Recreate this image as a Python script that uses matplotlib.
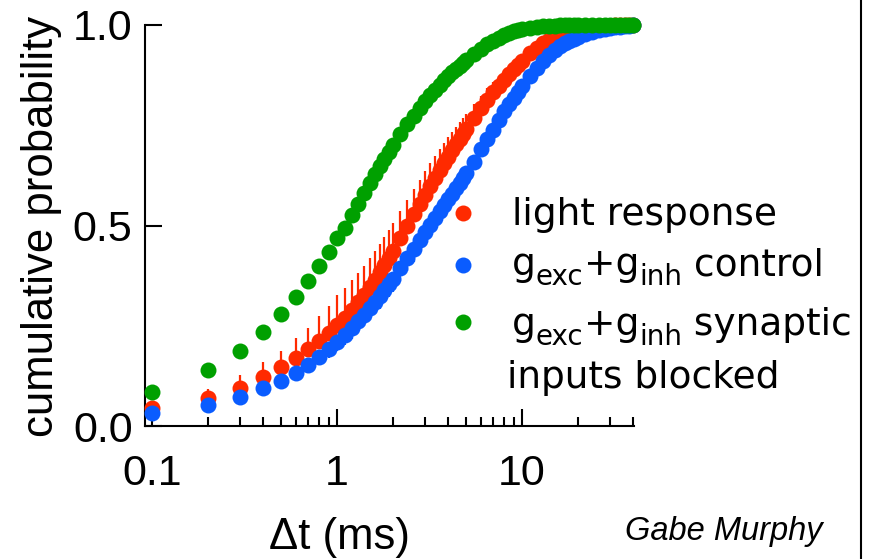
import matplotlib
matplotlib.use('Agg')
import matplotlib.pyplot as plt
from matplotlib.lines import Line2D
from matplotlib.ticker import FixedLocator, NullFormatter

# ---------------- data ----------------
dt_ms = [0.1, 0.2, 0.3, 0.4, 0.5, 0.6, 0.7, 0.8, 0.9, 1.0,
         1.1, 1.2, 1.3, 1.4, 1.5, 1.6, 1.7, 1.8, 1.9, 2.0,
         2.2, 2.4, 2.6, 2.8, 3.0, 3.2, 3.4, 3.6, 3.8, 4.0,
         4.2, 4.4, 4.6, 4.8, 5.0, 5.5, 6.0, 6.5, 7.0, 7.5,
         8.0, 8.5, 9.0, 9.5, 10, 11, 12, 13, 14, 15,
         16, 17, 18, 19, 20, 22, 24, 26, 28, 30,
         32, 34, 36, 38, 40]

light_response = [0.045, 0.070, 0.095, 0.122, 0.146, 0.170, 0.193, 0.213, 0.233, 0.252,
                  0.270, 0.289, 0.308, 0.327, 0.346, 0.365, 0.384, 0.402, 0.420, 0.437,
                  0.470, 0.500, 0.528, 0.553, 0.577, 0.599, 0.619, 0.638, 0.655, 0.672,
                  0.688, 0.702, 0.716, 0.729, 0.741, 0.768, 0.792, 0.813, 0.832, 0.849,
                  0.864, 0.878, 0.890, 0.901, 0.911, 0.929, 0.943, 0.954, 0.963, 0.970,
                  0.976, 0.981, 0.985, 0.988, 0.990, 0.993, 0.995, 0.997, 0.998, 0.998,
                  0.999, 0.999, 1.000, 1.000, 1.000]
light_err = [0.012, 0.022, 0.032, 0.038, 0.042, 0.050, 0.052, 0.062, 0.067, 0.075,
             0.075, 0.075, 0.074, 0.073, 0.072, 0.071, 0.070, 0.070, 0.069, 0.068,
             0.066, 0.064, 0.062, 0.060, 0.058, 0.056, 0.054, 0.052, 0.050, 0.048,
             0.046, 0.044, 0.042, 0.040, 0.038, 0.035, 0.032, 0.029, 0.026, 0.024,
             0.022, 0.020, 0.018, 0.016, 0.015, 0.013, 0.011, 0.009, 0.008, 0.007,
             0.006, 0.005, 0.004, 0.004, 0.003, 0.003, 0.002, 0.002, 0.001, 0.001,
             0.001, 0.001, 0.000, 0.000, 0.000]

control = [0.032, 0.052, 0.072, 0.095, 0.112, 0.133, 0.152, 0.171, 0.191, 0.210,
           0.228, 0.245, 0.262, 0.278, 0.294, 0.309, 0.324, 0.339, 0.353, 0.367,
           0.394, 0.419, 0.442, 0.463, 0.483, 0.502, 0.519, 0.535, 0.550, 0.565,
           0.579, 0.593, 0.606, 0.618, 0.630, 0.658, 0.690, 0.715, 0.738, 0.762,
           0.785, 0.803, 0.819, 0.834, 0.848, 0.873, 0.894, 0.911, 0.925, 0.937,
           0.947, 0.955, 0.961, 0.966, 0.971, 0.978, 0.983, 0.987, 0.990, 0.993,
           0.995, 0.996, 0.997, 0.998, 0.999]
control_err = [0.008, 0.010, 0.012, 0.014, 0.015, 0.016, 0.018, 0.020, 0.022, 0.024,
               0.026, 0.027, 0.028, 0.029, 0.030, 0.030, 0.031, 0.031, 0.032, 0.032,
               0.032, 0.032, 0.032, 0.031, 0.031, 0.030, 0.030, 0.029, 0.028, 0.027,
               0.026, 0.025, 0.024, 0.023, 0.022, 0.020, 0.018, 0.016, 0.015, 0.014,
               0.013, 0.012, 0.011, 0.010, 0.009, 0.008, 0.007, 0.006, 0.005, 0.005,
               0.004, 0.004, 0.003, 0.003, 0.003, 0.002, 0.002, 0.001, 0.001, 0.001,
               0.001, 0.000, 0.000, 0.000, 0.000]

blocked = [0.085, 0.140, 0.187, 0.234, 0.279, 0.322, 0.362, 0.400, 0.434, 0.469,
           0.495, 0.525, 0.553, 0.580, 0.605, 0.628, 0.648, 0.667, 0.684, 0.700,
           0.728, 0.752, 0.774, 0.793, 0.810, 0.825, 0.839, 0.851, 0.862, 0.873,
           0.882, 0.890, 0.898, 0.906, 0.913, 0.928, 0.941, 0.952, 0.961, 0.968,
           0.975, 0.980, 0.984, 0.987, 0.990, 0.993, 0.995, 0.997, 0.998, 0.998,
           0.999, 0.999, 0.999, 1.000, 1.000, 1.000, 1.000, 1.000, 1.000, 1.000,
           1.000, 1.000, 1.000, 1.000, 1.000]

# legend lines: pieces of (text, is_subscript)
legend_pieces = [
    [('light response', False)],
    [('g', False), ('exc', True), ('+g', False), ('inh', True), (' control', False)],
    [('g', False), ('exc', True), ('+g', False), ('inh', True), (' synaptic', False)],
    [('inputs blocked', False)],
]
x_ticks = [0.1, 1, 10]
x_ticklabels = ['0.1', '1', '10']
x_minor = [0.2, 0.3, 0.4, 0.5, 0.6, 0.7, 0.8, 0.9, 2, 3, 4, 5, 6, 7, 8, 9, 20, 30, 40]
y_ticks = [0.0, 0.5, 1.0]
y_ticklabels = ['0.0', '0.5', '1.0']

# ---------------- style ----------------
RED = '#FF2A00'
BLUE = '#0A5CFF'
GREEN = '#00A000'
AXFONT = 'Liberation Sans'
LEGFONT = 'DejaVu Sans'

W, H = 871, 559
fig = plt.figure(figsize=(W / 100, H / 100), dpi=100)
ax = fig.add_axes([145 / W, 1 - 426 / H, (634 - 145) / W, (426 - 25) / H])
ax.set_xscale('log')
ax.set_xlim(0.0917, 40.3)
ax.set_ylim(0, 1)

MS = 11.5
zeros = [0.0] * len(dt_ms)

c1 = ax.errorbar(dt_ms, light_response, yerr=[zeros, light_err], fmt='o', color=RED,
                 ms=MS, mew=0, elinewidth=1.6, capsize=0, zorder=3)
c2 = ax.errorbar(dt_ms, control, yerr=[control_err, zeros], fmt='o', color=BLUE,
                 ms=MS, mew=0, elinewidth=1.6, capsize=0, zorder=4)
c3 = ax.errorbar(dt_ms, blocked, fmt='o', color=GREEN, ms=MS, mew=0, zorder=5)
for c in (c1, c2, c3):
    for child in c.get_children():
        child.set_clip_on(False)

for s in ('top', 'right'):
    ax.spines[s].set_visible(False)
for s in ('left', 'bottom'):
    ax.spines[s].set_linewidth(1.5)

ax.set_xticks(x_ticks)
ax.set_xticklabels(x_ticklabels)
ax.xaxis.set_minor_locator(FixedLocator(x_minor))
ax.xaxis.set_minor_formatter(NullFormatter())
ax.set_yticks(y_ticks)
ax.set_yticklabels(y_ticklabels)
ax.tick_params(which='major', direction='in', length=12.5, width=1.5, labelsize=31, pad=9)
ax.tick_params(axis='x', which='major', pad=20)
ax.tick_params(which='minor', direction='in', length=6.5, width=1.5)
for lab in ax.get_xticklabels() + ax.get_yticklabels():
    lab.set_fontfamily(AXFONT)

def fx(px):
    return px / W

def fy(py):
    return 1 - py / H

fig.text(fx(42), fy(226), 'cumulative probability', rotation=90, ha='center', va='center',
         fontsize=31.5, family=AXFONT)
fig.text(fx(339), fy(549), '\u0394t (ms)', ha='center', va='baseline', fontsize=31.5, family=AXFONT)
fig.text(fx(625), fy(540), 'Gabe Murphy', ha='left', va='baseline', fontsize=23.5,
         family=AXFONT, style='italic')

# legend (manual)
leg_colors = [RED, BLUE, GREEN]
leg_marker_y = [213, 265, 322]
leg_text_base = [225, 275, 335, 388]
leg_text_x = [512, 512, 512, 507]
for col, my in zip(leg_colors, leg_marker_y):
    fig.add_artist(Line2D([fx(463)], [fy(my)], marker='o', ms=MS, mew=0, color=col,
                          transform=fig.transFigure, linestyle='none'))

renderer = fig.canvas.get_renderer()
LEG_FS = 27
SUB_FS = 20
SUB_DROP = 10  # px
for pieces, tx, ty in zip(legend_pieces, leg_text_x, leg_text_base):
    cur = tx
    for txt, sub in pieces:
        fs = SUB_FS if sub else LEG_FS
        yy = ty + (SUB_DROP if sub else 0)
        t = fig.text(fx(cur), fy(yy), txt, ha='left', va='baseline', fontsize=fs, family=LEGFONT)
        bb = t.get_window_extent(renderer=renderer)
        # advance by the text width (spaces included via layout width)
        cur = cur + bb.width

fig.add_artist(Line2D([fx(861), fx(861)], [0, 1], transform=fig.transFigure, color='black', lw=1.5))

fig.savefig('out.png', dpi=100)
